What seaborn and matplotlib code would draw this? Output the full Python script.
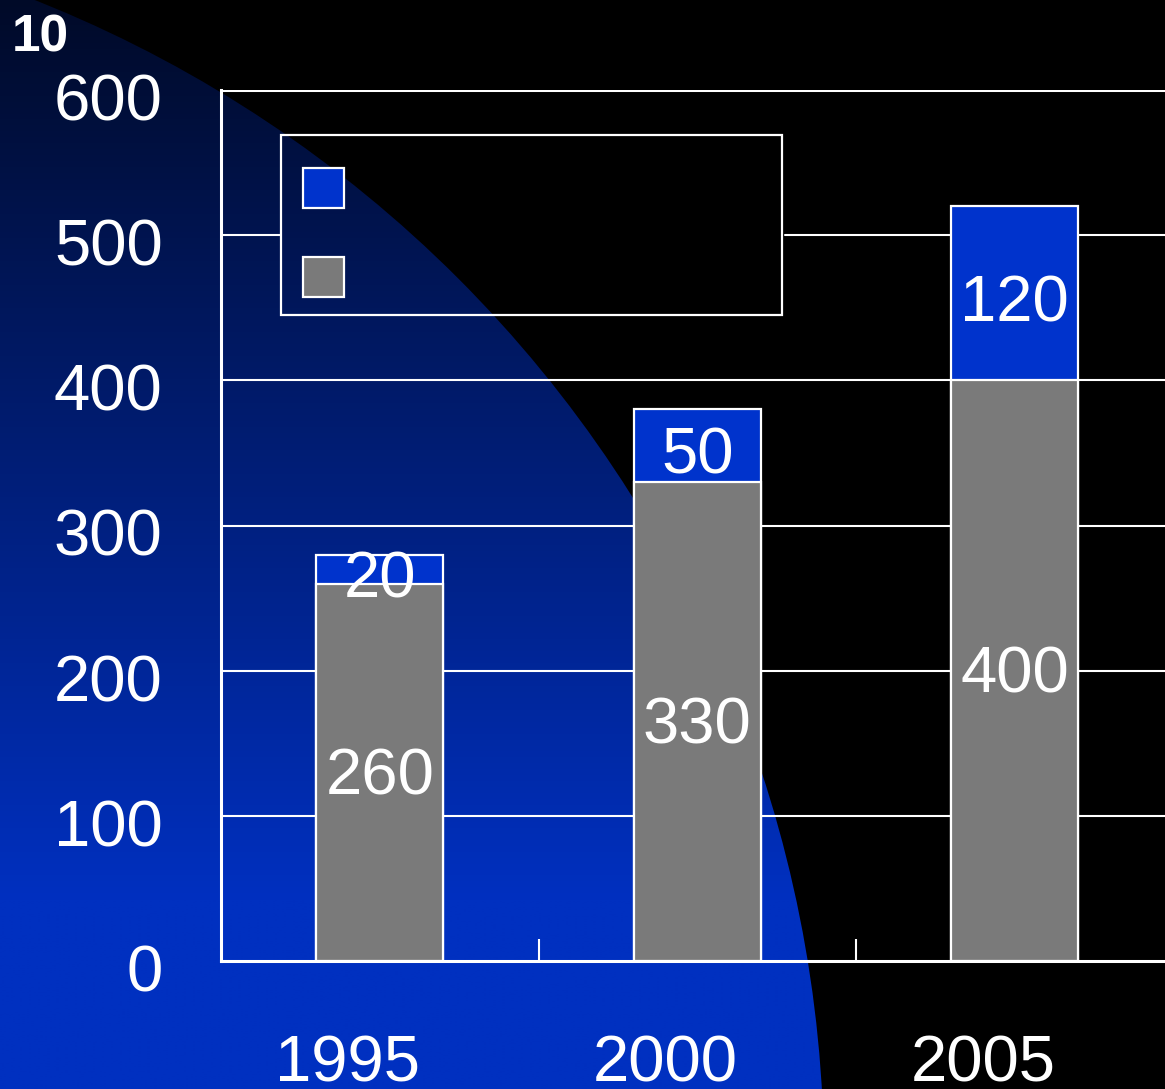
import numpy as np
import pandas as pd
import matplotlib
matplotlib.use("Agg")
import matplotlib.pyplot as plt
import matplotlib.patches as mpatches
from matplotlib.transforms import ScaledTranslation
import seaborn as sns

# ================================
# DATA
# ================================
years = ["1995", "2000", "2005"]
gray_vals = [260, 330, 400]
blue_vals = [20, 50, 120]
y_ticks = [0, 100, 200, 300, 400, 500, 600]
corner_label = "10"

df = pd.DataFrame({"year": years, "gray": gray_vals, "blue": blue_vals})
df["total"] = df["gray"] + df["blue"]

# ================================
# STYLE
# ================================
sns.set_style("dark")
plt.rcParams["font.family"] = ["Liberation Sans", "DejaVu Sans"]

BLUE = "#0033cc"
GRAY = "#7a7a7a"
W, H, DPI = 1165, 1089, 100

fig = plt.figure(figsize=(W / DPI, H / DPI), dpi=DPI, facecolor="black")

# background: black with a blue gradient disc from the lower left
bg = fig.add_axes([0, 0, 1, 1], zorder=-5)
bg.set_xlim(0, W)
bg.set_ylim(H, 0)
bg.axis("off")
t = np.clip(np.linspace(0, H, 400) / 900.0, 0, 1)[:, None]
top_c = np.array([0x00, 0x0a, 0x28]) / 255
bot_c = np.array([0x00, 0x30, 0xc0]) / 255
grad = (top_c + (bot_c - top_c) * t[..., None]) * np.ones((1, 2, 1))
im = bg.imshow(grad, extent=[0, W, H, 0], aspect="auto", interpolation="bilinear")
disc = mpatches.Circle((-426, 1162), 1250, transform=bg.transData)
im.set_clip_path(disc)

# main axes
ax = fig.add_axes([221 / W, (H - 961) / H, (W - 221) / W, 871 / H], zorder=1)
ax.set_facecolor("none")

# stacked bars: full total in blue, gray part drawn over it
sns.barplot(data=df, x="year", y="total", color=BLUE, saturation=1, width=0.4,
            edgecolor="white", linewidth=1.6, ax=ax, zorder=3)
sns.barplot(data=df, x="year", y="gray", color=GRAY, saturation=1, width=0.4,
            edgecolor="white", linewidth=1.6, ax=ax, zorder=3)

# value labels in the middle of each segment
for i, (g, b) in enumerate(zip(gray_vals, blue_vals)):
    ax.annotate(str(g), (i, g / 2), xytext=(0, -3.6), textcoords="offset points",
                ha="center", va="center", color="white", fontsize=47, zorder=6)
    ax.annotate(str(b), (i, g + b / 2), xytext=(0, -8), textcoords="offset points",
                ha="center", va="center", color="white", fontsize=47, zorder=6)

ax.set_ylim(0, 600)
ax.set_xlim(-0.5, -0.5 + (W - 221) / 317.5)
ax.set_xlabel("")
ax.set_ylabel("")
ax.set_yticks(y_ticks)
ax.set_yticklabels([str(v) for v in y_ticks])
ax.set_xticks(range(len(years)))
ax.set_xticklabels(years)
ax.set_xticks([0.5, 1.5], minor=True)

ax.tick_params(axis="y", length=0, pad=42, labelsize=47, labelcolor="white")
ax.tick_params(axis="x", which="major", length=0, pad=53, labelsize=47, labelcolor="white")
ax.tick_params(axis="x", which="minor", direction="in", length=16, width=1.5,
               color="white", bottom=True)
for lab in ax.get_xticklabels():
    lab.set_transform(lab.get_transform() + ScaledTranslation(-0.32, 0, fig.dpi_scale_trans))
for lab in ax.get_yticklabels():
    lab.set_transform(lab.get_transform() + ScaledTranslation(0, -0.07, fig.dpi_scale_trans))

for side in ["top", "right"]:
    ax.spines[side].set_visible(False)
for side in ["left", "bottom"]:
    ax.spines[side].set_color("white")
    ax.spines[side].set_linewidth(2.2)
    ax.spines[side].set_zorder(4)
ax.grid(False)

# legend box (axes fraction) - gridlines stop at its border
lx0, lx1 = (281 - 221) / (W - 221), (782 - 221) / (W - 221)
ly0, ly1 = (961 - 315) / 871, (961 - 135) / 871
for v in y_ticks[1:]:
    f = v / 600
    lw = 2.2 if v == 600 else 1.5
    if ly0 < f < ly1:
        ax.axhline(v, xmin=0, xmax=lx0, color="white", lw=lw, zorder=1)
        ax.axhline(v, xmin=lx1 + 0.003, xmax=1, color="white", lw=lw, zorder=1)
    else:
        ax.axhline(v, color="white", lw=lw, zorder=1)

ax.add_patch(mpatches.Rectangle((lx0, ly0), lx1 - lx0, ly1 - ly0, transform=ax.transAxes,
                                facecolor="none", edgecolor="white", linewidth=1.6,
                                zorder=5, clip_on=False))

handles = [mpatches.Patch(facecolor=BLUE, edgecolor="white", linewidth=1.6),
           mpatches.Patch(facecolor=GRAY, edgecolor="white", linewidth=1.6)]
hx0 = (303 - 221) / (W - 221)
hy1 = (961 - 168) / 871
leg = ax.legend(handles, ["", ""], loc="upper left",
                bbox_to_anchor=(hx0, ly0, lx1 - hx0, hy1 - ly0), mode="expand",
                borderaxespad=0, fontsize=20, handlelength=1.475, handleheight=1.83,
                labelspacing=1.78, borderpad=0, handletextpad=0, frameon=False)
leg.set_zorder(5)

fig.text(12 / W, 1 - 52 / H, corner_label, color="white", fontsize=37,
         fontweight="bold", ha="left", va="baseline")

fig.savefig("out.png", dpi=DPI, facecolor="black")
